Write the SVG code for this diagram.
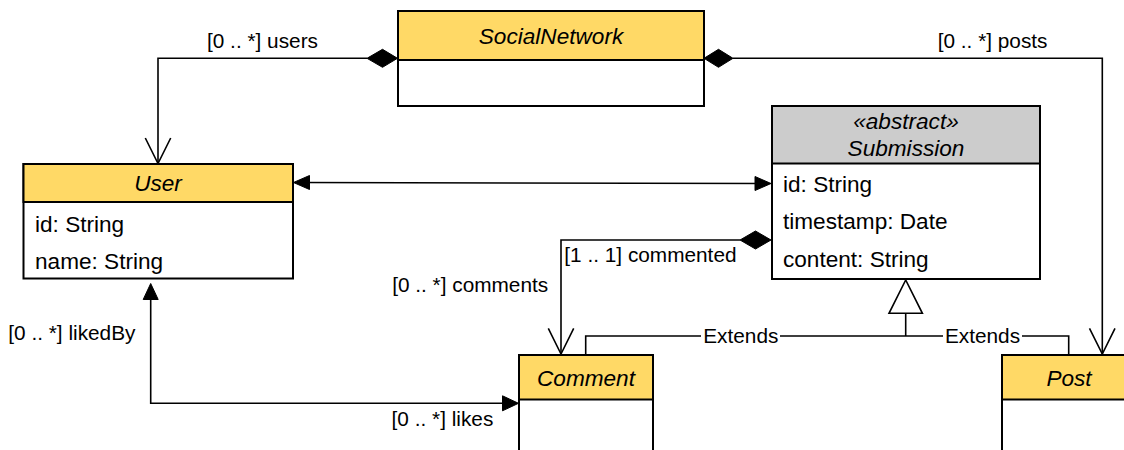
<svg xmlns="http://www.w3.org/2000/svg" width="1124" height="450" viewBox="0 0 1124 450">
<style>
.box{fill:#ffffff;stroke:#000000;stroke-width:2}
.hdr{fill:#FFD966;stroke:#000000;stroke-width:2}
.hdrg{fill:#CCCCCC;stroke:#000000;stroke-width:2}
.title{font-family:"Liberation Sans",Arial,sans-serif;font-size:22.6px;font-style:italic;fill:#000;text-anchor:middle}
.attr{font-family:"Liberation Sans",Arial,sans-serif;font-size:22.6px;fill:#000}
.lbl{font-family:"Liberation Sans",Arial,sans-serif;font-size:20.8px;fill:#000}
.mid{text-anchor:middle}
.end{text-anchor:end}
.edge{fill:none;stroke:#000;stroke-width:1.6}
.dia{fill:#000;stroke:#000;stroke-width:1}
.farrow{fill:#000;stroke:#000;stroke-width:1}
.oarrow{fill:none;stroke:#000;stroke-width:1.6}
.tri{fill:#fff;stroke:#000;stroke-width:1.6}
.bg{fill:#ffffff}
</style>
<rect width="1124" height="450" fill="#ffffff"/>

<g id="connectors">
  <polyline class="edge" points="367,58.3 158,58.3 158,164"/>
  <polygon class="dia" points="397.5,58.3 382.5,49.3 367,58.3 382.5,67.3"/>
  <polyline class="oarrow" points="145.3,138 158,163.5 170.7,138"/>
  <text class="lbl" x="207" y="48.3">[0 .. *] users</text>

  <polyline class="edge" points="733,58.3 1102.3,58.3 1102.3,355"/>
  <polygon class="dia" points="704,58.3 718.5,49.3 733,58.3 718.5,67.3"/>
  <polyline class="oarrow" points="1089.5,328.3 1102.3,354 1115,328.3"/>
  <text class="lbl" x="937.7" y="48.3">[0 .. *] posts</text>

  <line class="edge" x1="300" y1="182.5" x2="764" y2="183.5"/>
  <polygon class="farrow" points="293.5,182.5 309.5,175.5 309.5,189.5"/>
  <polygon class="farrow" points="771,183.5 755,176.5 755,190.5"/>

  <polyline class="edge" points="740,240 561,240 561,354"/>
  <polygon class="dia" points="771,240 755.5,231 740,240 755.5,249"/>
  <polyline class="oarrow" points="548.3,328.3 561,354 573.7,328.3"/>
  <text class="lbl" x="564.3" y="261.7">[1 .. 1] commented</text>
  <text class="lbl end" x="548.2" y="291.7">[0 .. *] comments</text>

  <polyline class="edge" points="150.7,295 150.7,403.3 510,403.3"/>
  <polygon class="farrow" points="150.7,283.5 143.2,299.5 158.2,299.5"/>
  <polygon class="farrow" points="518.5,403.3 502.5,395.8 502.5,410.8"/>
  <text class="lbl" x="8.3" y="340">[0 .. *] likedBy</text>
  <text class="lbl end" x="493.3" y="426">[0 .. *] likes</text>

  <polyline class="edge" points="585.7,355 585.7,336 1068.7,336 1068.7,355"/>
  <line class="edge" x1="905.7" y1="313.3" x2="905.7" y2="336"/>
  <polygon class="tri" points="905.7,280 889,313.3 922.4,313.3"/>
  <rect class="bg" x="701" y="326" width="79" height="20"/>
  <text class="lbl mid" x="740.8" y="343">Extends</text>
  <rect class="bg" x="943" y="326" width="79" height="20"/>
  <text class="lbl mid" x="982.5" y="343">Extends</text>
</g>

<g id="SocialNetwork">
  <rect class="box" x="398" y="11" width="306" height="95"/>
  <rect class="hdr" x="398" y="11" width="306" height="49"/>
  <text class="title" x="551" y="43.5">SocialNetwork</text>
</g>

<g id="User">
  <rect class="box" x="23.5" y="164" width="269.5" height="114.5"/>
  <rect class="hdr" x="23.5" y="164" width="269.5" height="38"/>
  <text class="title" x="158" y="190.5">User</text>
  <text class="attr" x="35" y="231.5">id: String</text>
  <text class="attr" x="35" y="268.5">name: String</text>
</g>

<g id="Submission">
  <rect class="box" x="772" y="106" width="268" height="173"/>
  <rect class="hdrg" x="772" y="106" width="268" height="57.5"/>
  <text class="title" x="906" y="128.5">«abstract»</text>
  <text class="title" x="906" y="156">Submission</text>
  <text class="attr" x="783" y="191.7">id: String</text>
  <text class="attr" x="783" y="229.3">timestamp: Date</text>
  <text class="attr" x="783" y="266.7">content: String</text>
</g>

<g id="Comment">
  <rect class="box" x="519" y="355" width="134" height="110"/>
  <rect class="hdr" x="519" y="355" width="134" height="44.5"/>
  <text class="title" x="586" y="385.5">Comment</text>
</g>

<g id="Post">
  <rect class="box" x="1002" y="355" width="134" height="110"/>
  <rect class="hdr" x="1002" y="355" width="134" height="44.5"/>
  <text class="title" x="1069" y="385.5">Post</text>
</g>
</svg>
